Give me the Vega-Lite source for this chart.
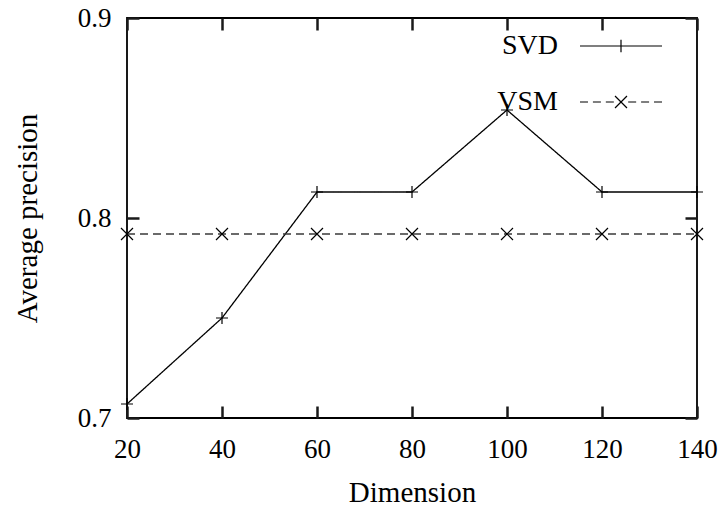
{
  "$schema": "https://vega.github.io/schema/vega-lite/v6.json",
  "width": 570,
  "height": 400,
  "autosize": "none",
  "padding": {"left": 127, "top": 18, "right": 23, "bottom": 92},
  "background": "#ffffff",
  "config": {
    "view": {"stroke": "#000", "strokeWidth": 1.8},
    "font": "Liberation Serif",
    "axis": {
      "domain": false,
      "grid": false,
      "ticks": true,
      "tickColor": "#1a1a1a",
      "tickWidth": 2.5,
      "tickSize": 12,
      "tickOpacity": 1,
      "zindex": 1,
      "labelFlush": false,
      "labelOverlap": false,
      "labelFont": "Liberation Serif",
      "labelFontSize": 27,
      "labelColor": "#000",
      "titleFont": "Liberation Serif",
      "titleFontSize": 29,
      "titleFontWeight": "normal",
      "titleColor": "#000"
    }
  },
  "data": {
    "values": [
      {"dim": 20, "ap": 0.707, "series": "SVD"},
      {"dim": 40, "ap": 0.750, "series": "SVD"},
      {"dim": 60, "ap": 0.813, "series": "SVD"},
      {"dim": 80, "ap": 0.813, "series": "SVD"},
      {"dim": 100, "ap": 0.854, "series": "SVD"},
      {"dim": 120, "ap": 0.813, "series": "SVD"},
      {"dim": 140, "ap": 0.813, "series": "SVD"},
      {"dim": 20, "ap": 0.792, "series": "VSM"},
      {"dim": 40, "ap": 0.792, "series": "VSM"},
      {"dim": 60, "ap": 0.792, "series": "VSM"},
      {"dim": 80, "ap": 0.792, "series": "VSM"},
      {"dim": 100, "ap": 0.792, "series": "VSM"},
      {"dim": 120, "ap": 0.792, "series": "VSM"},
      {"dim": 140, "ap": 0.792, "series": "VSM"}
    ]
  },
  "resolve": {"axis": {"x": "independent", "y": "independent"}},
  "layer": [
    {
      "mark": {"type": "line", "strokeWidth": 1.3},
      "encoding": {
        "x": {
          "field": "dim", "type": "quantitative",
          "scale": {"domain": [20, 140], "nice": false},
          "axis": {"values": [20, 40, 60, 80, 100, 120, 140], "title": "Dimension", "offset": -12, "labelPadding": 18, "titlePadding": 16}
        },
        "y": {
          "field": "ap", "type": "quantitative",
          "scale": {"domain": [0.7, 0.9], "nice": false, "zero": false},
          "axis": {"values": [0.7, 0.8, 0.9], "format": ".1f", "title": "Average precision", "offset": -12, "labelPadding": 16, "titlePadding": 35}
        },
        "strokeDash": {
          "field": "series", "type": "nominal",
          "scale": {"range": [[1, 0], [8, 5]]},
          "legend": null
        },
        "color": {
          "field": "series", "type": "nominal",
          "scale": {"range": ["#000000", "#3a3a3a"]},
          "legend": null
        }
      }
    },
    {
      "transform": [{"filter": "datum.series === 'SVD'"}],
      "mark": {"type": "point", "shape": "M-1,0H1M0,-1V1", "size": 144, "filled": false, "color": "#000", "strokeWidth": 1.2, "opacity": 1},
      "encoding": {
        "x": {"field": "dim", "type": "quantitative", "axis": {"orient": "top", "offset": -12, "labels": false, "title": null, "values": [20, 40, 60, 80, 100, 120, 140]}},
        "y": {"field": "ap", "type": "quantitative", "axis": {"orient": "right", "offset": -12, "labels": false, "title": null, "values": [0.7, 0.8, 0.9]}}
      }
    },
    {
      "transform": [{"filter": "datum.series === 'VSM'"}],
      "mark": {"type": "point", "shape": "M-1,-1L1,1M-1,1L1,-1", "size": 144, "filled": false, "color": "#000", "strokeWidth": 1.2, "opacity": 1},
      "encoding": {
        "x": {"field": "dim", "type": "quantitative", "axis": null},
        "y": {"field": "ap", "type": "quantitative", "axis": null}
      }
    },
    {
      "transform": [{"filter": "datum.dim < 0"}],
      "mark": {"type": "point", "filled": false, "color": "#000", "strokeWidth": 1.2},
      "encoding": {
        "x": {"field": "dim", "type": "quantitative", "axis": null},
        "y": {"field": "ap", "type": "quantitative", "axis": null},
        "shape": {
          "field": "series", "type": "nominal",
          "scale": {"domain": ["SVD", "VSM"], "range": ["M-1,0H1M0,-0.15V0.15", "M-1,0H-0.805M-0.685,0H-0.49M-0.37,0H-0.175M0.175,0H0.37M0.49,0H0.685M0.805,0H1M-0.146,-0.146L0.146,0.146M-0.146,0.146L0.146,-0.146"]},
          "legend": {
            "orient": "none",
            "legendX": 452,
            "legendY": -14,
            "title": null,
            "padding": 0,
            "symbolSize": 6724,
            "symbolStrokeWidth": 1.2,
            "symbolStrokeColor": "#000",
            "symbolFillColor": "transparent",
            "symbolOpacity": 1,
            "labelAlign": "right",
            "labelOffset": -105,
            "labelFont": "Liberation Serif",
            "labelFontSize": 28,
            "labelColor": "#000",
            "rowPadding": -28
          }
        }
      }
    }
  ]
}
